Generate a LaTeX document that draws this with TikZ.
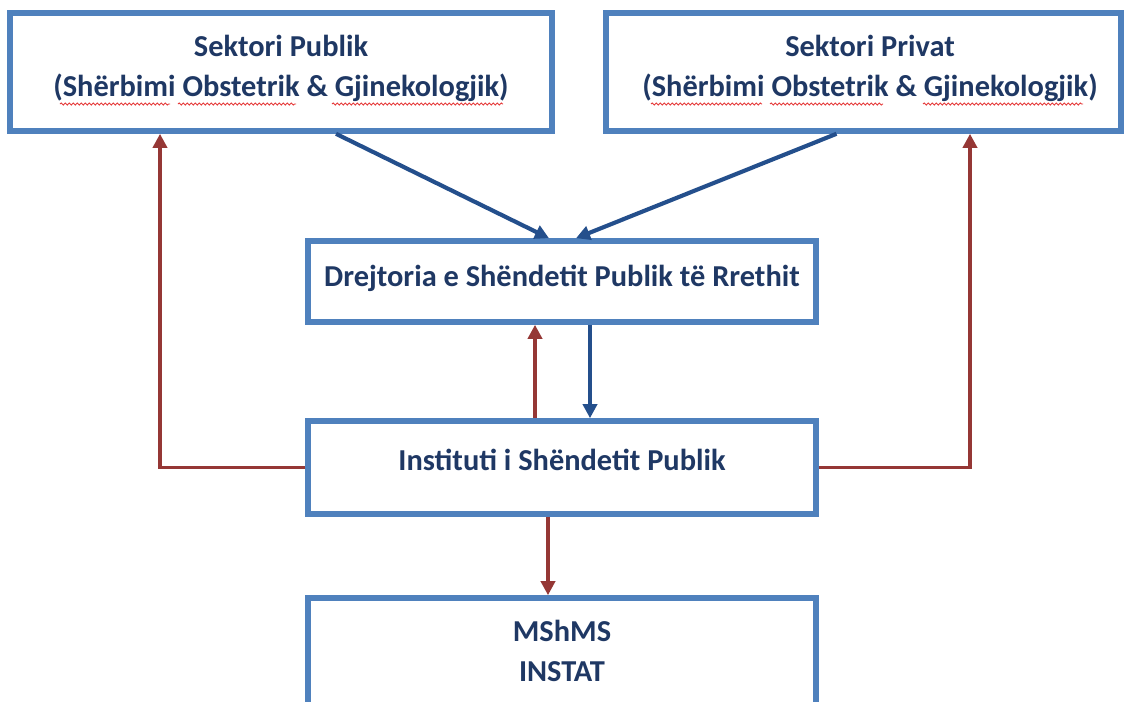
\documentclass[tikz,border=0pt]{standalone}
\usepackage{fontspec}
\setmainfont{Carlito}
\usetikzlibrary{arrows.meta,decorations.pathmorphing}
\definecolor{boxblue}{RGB}{79,129,189}
\definecolor{txtblue}{RGB}{31,56,100}
\definecolor{arrblue}{RGB}{36,79,140}
\definecolor{arrred}{RGB}{149,55,53}
\definecolor{wavered}{RGB}{230,60,60}
\tikzset{
  box/.style={draw=boxblue, line width=4.2pt, fill=white, inner sep=0pt},
  txt/.style={text=txtblue, font=\fontsize{22.8}{30}\selectfont\bfseries, align=center, inner sep=0pt},
  bluearr/.style={draw=arrblue, line width=3.1pt, -{Triangle[width=10.5pt,length=10.5pt]}},
  redarr/.style={draw=arrred, line width=2.7pt, -{Triangle[width=10.5pt,length=10.5pt]}},
  wave/.style={draw=wavered, line width=0.7pt, decorate, decoration={snake, segment length=3pt, amplitude=0.8pt}},
}
\begin{document}
\begin{tikzpicture}[x=0.75pt,y=-0.75pt]
\useasboundingbox (0,0) rectangle (1128,701);
\fill[white] (0,0) rectangle (1128,701);
% boxes
\node[box, minimum width=542*0.75pt, minimum height=118*0.75pt] (pub) at (281,72) {};
\node[box, minimum width=515*0.75pt, minimum height=118*0.75pt] (priv) at (863.5,72) {};
\node[box, minimum width=508*0.75pt, minimum height=81*0.75pt] (dsh) at (562,281.5) {};
\node[box, minimum width=508*0.75pt, minimum height=93*0.75pt] (ish) at (562,467.5) {};
\node[box, minimum width=508*0.75pt, minimum height=108*0.75pt] (msh) at (562,652) {};
% texts
\node[txt] (tpub) at (281,68) {Sektori Publik\\(Shërbimi Obstetrik \& Gjinekologjik)};
\node[txt] (tpriv) at (870,68) {Sektori Privat\\(Shërbimi Obstetrik \& Gjinekologjik)};
\node[txt] (tdsh) at (562,278) {Drejtoria e Shëndetit Publik të Rrethit};
\node[txt] (tish) at (562,460) {Instituti i Shëndetit Publik};
\node[txt] (tmsh) at (562,651) {MShMS\\INSTAT};
% spell-check underlines
\path[wave] (60,104) -- (170,104);
\path[wave] (178,104) -- (296,104);
\path[wave] (332,104) -- (503,104);
\path[wave] (651,104) -- (762,104);
\path[wave] (770,104) -- (883,104);
\path[wave] (923,104) -- (1083,104);
% coordinates
\coordinate (a1) at ([xshift=55*0.75pt]pub.south);
\coordinate (a2) at ([xshift=-13*0.75pt]dsh.north);
\coordinate (b1) at ([xshift=-27*0.75pt]priv.south);
\coordinate (b2) at ([xshift=14*0.75pt]dsh.north);
% blue arrows
\draw[bluearr] (a1) -- (a2);
\draw[bluearr] (b1) -- (b2);
\draw[bluearr] ([xshift=28*0.75pt]dsh.south) -- ([xshift=28*0.75pt]ish.north);
% red arrows
\draw[redarr] ([xshift=-27*0.75pt]ish.north) -- ([xshift=-27*0.75pt]dsh.south);
\draw[redarr] (ish.west) -| ([xshift=-121*0.75pt]pub.south);
\draw[redarr] (ish.east) -| ([xshift=106.5*0.75pt]priv.south);
\draw[redarr] ([xshift=-14*0.75pt]ish.south) -- ([xshift=-14*0.75pt]msh.north);
\end{tikzpicture}
\end{document}
